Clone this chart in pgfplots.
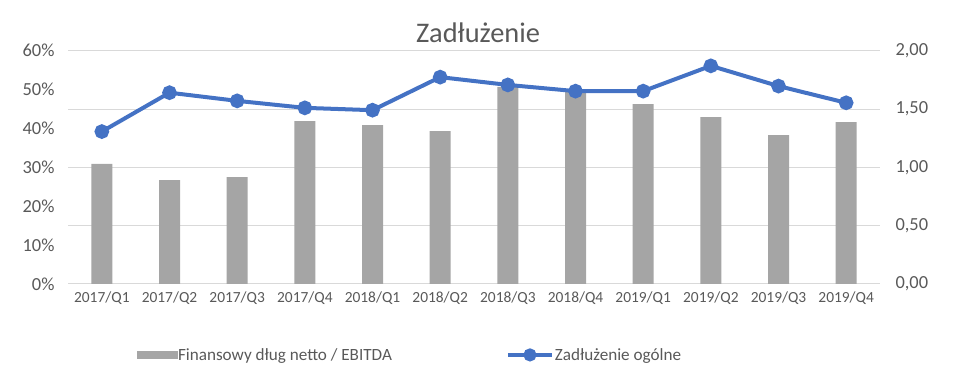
\documentclass[border=0pt]{standalone}
\usepackage{pgfplots}
\pgfplotsset{compat=1.18}
\usepackage{fontspec}
\setmainfont{Carlito}
\definecolor{barc}{HTML}{A5A5A5}
\definecolor{linec}{HTML}{4472C4}
\definecolor{txt}{HTML}{595959}
\definecolor{gridc}{HTML}{D9D9D9}
\begin{document}
\begin{tikzpicture}
\useasboundingbox (0,0) rectangle (960bp,377bp);
\pgfplotsset{
  common/.style={
    at={(68bp,93bp)}, anchor=south west,
    scale only axis, width=812bp, height=233.3bp,
    xmin=-0.5, xmax=11.5,
    axis line style={draw=none},
    major tick length=0pt,
    tick label style={text=txt},
    /pgf/number format/assume math mode=true,
  }
}
% bars on right axis
\begin{axis}[common,
  ymin=0, ymax=2,
  axis y line*=right, axis x line*=bottom,
  ytick={0,0.5,1,1.5,2},
  yticklabel style={/pgf/number format/fixed, /pgf/number format/fixed zerofill, /pgf/number format/precision=2, /pgf/number format/use comma},
  yticklabel style={font=\fontsize{18.5}{20}\selectfont, xshift=12bp},
  xtick={0,...,11},
  xticklabels={2017/Q1,2017/Q2,2017/Q3,2017/Q4,2018/Q1,2018/Q2,2018/Q3,2018/Q4,2019/Q1,2019/Q2,2019/Q3,2019/Q4},
  xticklabel style={font=\fontsize{15.5}{17}\selectfont, yshift=-4bp},
  ymajorgrids, grid style={gridc, line width=1bp},
]
\addplot[ybar, bar width=21bp, fill=barc, draw=none] coordinates {
(0,1.03) (1,0.89) (2,0.917) (3,1.397) (4,1.362) (5,1.311)
(6,1.69) (7,1.65) (8,1.543) (9,1.431) (10,1.277) (11,1.388)
};
\end{axis}
% line on left axis
\begin{axis}[common,
  ymin=0, ymax=60,
  axis y line*=left, axis x line=none,
  ytick={0,10,...,60},
  yticklabel={\pgfmathprintnumber{\tick}\%},
  yticklabel style={font=\fontsize{18.5}{20}\selectfont, xshift=-10bp},
  legend columns=2,
  legend style={draw=none, fill=none, at={(0.0845,-0.304)}, anchor=west, inner sep=0pt, outer sep=0pt,
    font=\fontsize{17.2}{19}\selectfont, text=txt,
    /tikz/every even column/.append style={column sep=113bp},
    nodes={inner sep=1bp}},
  legend cell align=left,
]
\addlegendimage{legend image code/.code={\fill[barc] (0bp,-3.5bp) rectangle (40bp,3.5bp);}}
\addlegendentry{Finansowy dług netto / EBITDA}
\addplot[color=linec, line width=4bp, mark=*, mark size=5.3bp, mark options={fill=linec, draw=none},
  legend image code/.code={\draw[linec, line width=4bp] (0bp,0bp) -- (44bp,0bp); \fill[linec] (22bp,0bp) circle (4.5bp);}]
coordinates {
(0,39.2) (1,49.2) (2,47.1) (3,45.3) (4,44.7) (5,53.2)
(6,51.2) (7,49.6) (8,49.6) (9,56.1) (10,50.9) (11,46.6)
};
\addlegendentry{Zadłużenie ogólne}
\end{axis}
\node[anchor=base, text=txt, font=\fontsize{28.5}{31}\selectfont] at (478bp,334bp) {Zadłużenie};
\end{tikzpicture}
\end{document}
